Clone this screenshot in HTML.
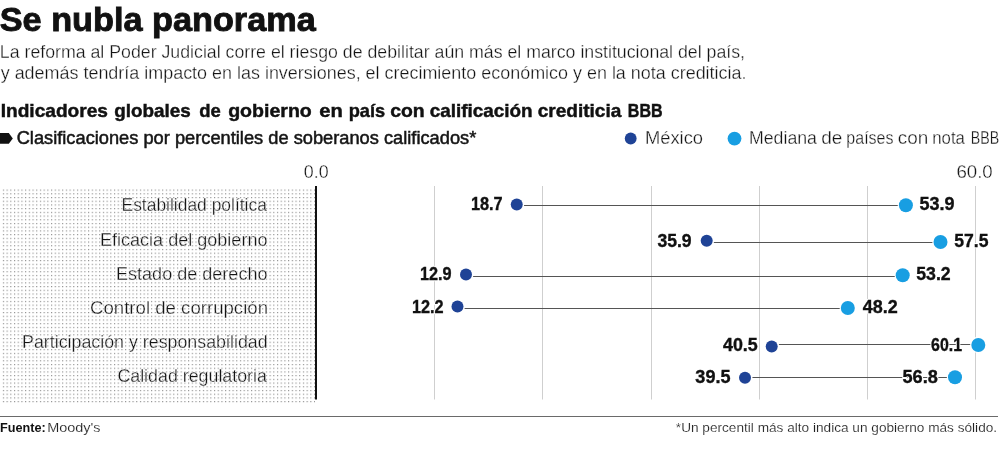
<!DOCTYPE html>
<html lang="es"><head><meta charset="utf-8"><title>Se nubla panorama</title>
<style>
html,body{margin:0;padding:0;background:#fff;}
body{width:1000px;height:450px;overflow:hidden;font-family:"Liberation Sans",sans-serif;}
svg{display:block;font-family:"Liberation Sans",sans-serif;opacity:.999;will-change:transform;}
.b{font-weight:bold;fill:#111;}
.l{fill:#141414;stroke:#fff;stroke-width:0.3px;}
.l2{fill:#222;stroke:#fff;stroke-width:0.15px;}
.m{fill:#151515;stroke:#151515;stroke-width:0.5px;}
.h{font-weight:bold;fill:#fff;stroke:#fff;stroke-width:2.6px;stroke-linejoin:round;}
.n{font-weight:bold;fill:#111;stroke:#111;stroke-width:0.35px;}
</style></head><body>
<svg width="1000" height="450" viewBox="0 0 1000 450">
<defs>
<pattern id="dots" x="2.85" y="189.55" width="3.704" height="3.711" patternUnits="userSpaceOnUse">
<rect x="0" y="0" width="1.15" height="1.15" fill="#8e8e8e"/>
</pattern>
</defs>
<rect x="0" y="0" width="1000" height="450" fill="#fff"/>
<!-- header -->
<rect x="2" y="189" width="313" height="214" fill="url(#dots)"/>
<text class="b" x="-0.30" y="31.2" font-size="34" stroke="#111" stroke-width="0.9" textLength="316.08" lengthAdjust="spacingAndGlyphs">Se nubla panorama</text>
<text class="l" x="-0.18" y="57.6" font-size="18"  textLength="745.19" lengthAdjust="spacingAndGlyphs">La reforma al Poder Judicial corre el riesgo de debilitar aún más el marco institucional del país,</text>
<text class="l" x="0.68" y="78.6" font-size="18"  textLength="745.82" lengthAdjust="spacingAndGlyphs">y además tendría impacto en las inversiones, el crecimiento económico y en la nota crediticia.</text>
<text class="b" x="0.66" y="116.7" font-size="18.5" stroke="#111" stroke-width="0.45" textLength="107.31" lengthAdjust="spacingAndGlyphs">Indicadores</text>
<text class="b" x="114.22" y="116.7" font-size="18.5" stroke="#111" stroke-width="0.45" textLength="76.54" lengthAdjust="spacingAndGlyphs">globales</text>
<text class="b" x="199.23" y="116.7" font-size="18.5" stroke="#111" stroke-width="0.45" textLength="21.52" lengthAdjust="spacingAndGlyphs">de</text>
<text class="b" x="228.19" y="116.7" font-size="18.5" stroke="#111" stroke-width="0.45" textLength="83.60" lengthAdjust="spacingAndGlyphs">gobierno</text>
<text class="b" x="319.19" y="116.7" font-size="18.5" stroke="#111" stroke-width="0.45" textLength="23.52" lengthAdjust="spacingAndGlyphs">en</text>
<text class="b" x="348.70" y="116.7" font-size="18.5" stroke="#111" stroke-width="0.45" textLength="36.50" lengthAdjust="spacingAndGlyphs">país</text>
<text class="b" x="390.22" y="116.7" font-size="18.5" stroke="#111" stroke-width="0.45" textLength="34.51" lengthAdjust="spacingAndGlyphs">con</text>
<text class="b" x="429.74" y="116.7" font-size="18.5" stroke="#111" stroke-width="0.45" textLength="102.83" lengthAdjust="spacingAndGlyphs">calificación</text>
<text class="b" x="537.73" y="116.7" font-size="18.5" stroke="#111" stroke-width="0.45" textLength="83.61" lengthAdjust="spacingAndGlyphs">crediticia</text>
<text class="b" x="627.87" y="116.7" font-size="18.5" stroke="#111" stroke-width="0.45" textLength="34.79" lengthAdjust="spacingAndGlyphs">BBB</text>
<text class="m" x="16.67" y="143.8" font-size="17.6"  textLength="459.64" lengthAdjust="spacingAndGlyphs">Clasificaciones por percentiles de soberanos calificados*</text>
<text class="l" x="644.96" y="144.4" font-size="17.6"  textLength="58.11" lengthAdjust="spacingAndGlyphs">México</text>
<text class="l" x="749.02" y="144.4" font-size="17.6"  textLength="67.95" lengthAdjust="spacingAndGlyphs">Mediana</text>
<text class="l" x="821.19" y="144.4" font-size="17.6"  textLength="21.17" lengthAdjust="spacingAndGlyphs">de</text>
<text class="l" x="846.37" y="144.4" font-size="17.6"  textLength="47.17" lengthAdjust="spacingAndGlyphs">países</text>
<text class="l" x="897.68" y="144.4" font-size="17.6"  textLength="30.51" lengthAdjust="spacingAndGlyphs">con</text>
<text class="l" x="932.27" y="144.4" font-size="17.6"  textLength="32.66" lengthAdjust="spacingAndGlyphs">nota</text>
<text class="l" x="970.81" y="144.4" font-size="17.6"  textLength="28.36" lengthAdjust="spacingAndGlyphs">BBB</text>
<text class="l" x="303.80" y="178" font-size="18.6"  textLength="24.79" lengthAdjust="spacingAndGlyphs">0.0</text>
<text class="l" x="956.38" y="178" font-size="18.6"  textLength="36.39" lengthAdjust="spacingAndGlyphs">60.0</text>
<text class="l" x="121.54" y="211" font-size="18"  textLength="145.36" lengthAdjust="spacingAndGlyphs">Estabilidad política</text>
<text class="l" x="99.99" y="245.5" font-size="18"  textLength="167.49" lengthAdjust="spacingAndGlyphs">Eficacia del gobierno</text>
<text class="l" x="115.99" y="279.5" font-size="18"  textLength="151.50" lengthAdjust="spacingAndGlyphs">Estado de derecho</text>
<text class="l" x="90.05" y="314" font-size="18"  textLength="177.94" lengthAdjust="spacingAndGlyphs">Control de corrupción</text>
<text class="l" x="22.01" y="348" font-size="18"  textLength="245.62" lengthAdjust="spacingAndGlyphs">Participación y responsabilidad</text>
<text class="l" x="117.40" y="382" font-size="18"  textLength="149.50" lengthAdjust="spacingAndGlyphs">Calidad regulatoria</text>
<path d="M0 133 H8.8 L12.8 138.4 L8.8 143.8 H0 Z" fill="#111"/>
<circle cx="630.7" cy="138.5" r="5.9" fill="#1f4396"/>
<circle cx="734.5" cy="138.6" r="6.9" fill="#189ee2"/>
<!-- chart -->
<line x1="434.5" y1="186" x2="434.5" y2="399.5" stroke="#cfcfcf" stroke-width="1"/>
<line x1="542.5" y1="186" x2="542.5" y2="399.5" stroke="#cfcfcf" stroke-width="1"/>
<line x1="651.5" y1="186" x2="651.5" y2="399.5" stroke="#cfcfcf" stroke-width="1"/>
<line x1="759.5" y1="186" x2="759.5" y2="399.5" stroke="#cfcfcf" stroke-width="1"/>
<line x1="867.5" y1="186" x2="867.5" y2="399.5" stroke="#cfcfcf" stroke-width="1"/>
<line x1="975.5" y1="186" x2="975.5" y2="399.5" stroke="#cfcfcf" stroke-width="1"/>
<line x1="316" y1="186" x2="316" y2="399.5" stroke="#111" stroke-width="2"/>
<line x1="516.75" y1="205.5" x2="905.9" y2="205.5" stroke="#555" stroke-width="1.1"/>
<circle cx="516.75" cy="204.5" r="6" fill="#1f4396" stroke="#fff" stroke-width="3" paint-order="stroke"/>
<circle cx="905.9" cy="205.2" r="7" fill="#189ee2" stroke="#fff" stroke-width="2.4" paint-order="stroke"/>
<text class="h" x="470.90" y="209.5" font-size="18"  textLength="31.75" lengthAdjust="spacingAndGlyphs">18.7</text>
<text class="n" x="470.90" y="209.5" font-size="18"  textLength="31.75" lengthAdjust="spacingAndGlyphs">18.7</text>
<text class="h" x="919.41" y="209.5" font-size="18"  textLength="35.01" lengthAdjust="spacingAndGlyphs">53.9</text>
<text class="n" x="919.41" y="209.5" font-size="18"  textLength="35.01" lengthAdjust="spacingAndGlyphs">53.9</text>
<line x1="706.7" y1="242.5" x2="940.5" y2="242.5" stroke="#555" stroke-width="1.1"/>
<circle cx="706.7" cy="240.8" r="6" fill="#1f4396" stroke="#fff" stroke-width="3" paint-order="stroke"/>
<circle cx="940.5" cy="242.0" r="7" fill="#189ee2" stroke="#fff" stroke-width="2.4" paint-order="stroke"/>
<text class="h" x="657.39" y="247" font-size="18"  textLength="34.22" lengthAdjust="spacingAndGlyphs">35.9</text>
<text class="n" x="657.39" y="247" font-size="18"  textLength="34.22" lengthAdjust="spacingAndGlyphs">35.9</text>
<text class="h" x="954.23" y="247" font-size="18"  textLength="34.23" lengthAdjust="spacingAndGlyphs">57.5</text>
<text class="n" x="954.23" y="247" font-size="18"  textLength="34.23" lengthAdjust="spacingAndGlyphs">57.5</text>
<line x1="466" y1="276.5" x2="902.7" y2="276.5" stroke="#555" stroke-width="1.1"/>
<circle cx="466" cy="274.5" r="6" fill="#1f4396" stroke="#fff" stroke-width="3" paint-order="stroke"/>
<circle cx="902.7" cy="275.2" r="7" fill="#189ee2" stroke="#fff" stroke-width="2.4" paint-order="stroke"/>
<text class="h" x="419.90" y="280" font-size="18"  textLength="31.67" lengthAdjust="spacingAndGlyphs">12.9</text>
<text class="n" x="419.90" y="280" font-size="18"  textLength="31.67" lengthAdjust="spacingAndGlyphs">12.9</text>
<text class="h" x="916.22" y="280" font-size="18"  textLength="34.42" lengthAdjust="spacingAndGlyphs">53.2</text>
<text class="n" x="916.22" y="280" font-size="18"  textLength="34.42" lengthAdjust="spacingAndGlyphs">53.2</text>
<line x1="457.5" y1="308.5" x2="847.8" y2="308.5" stroke="#555" stroke-width="1.1"/>
<circle cx="457.5" cy="306.6" r="6" fill="#1f4396" stroke="#fff" stroke-width="3" paint-order="stroke"/>
<circle cx="847.8" cy="308" r="7" fill="#189ee2" stroke="#fff" stroke-width="2.4" paint-order="stroke"/>
<text class="h" x="411.90" y="313" font-size="18"  textLength="31.70" lengthAdjust="spacingAndGlyphs">12.2</text>
<text class="n" x="411.90" y="313" font-size="18"  textLength="31.70" lengthAdjust="spacingAndGlyphs">12.2</text>
<text class="h" x="862.68" y="313" font-size="18"  textLength="34.98" lengthAdjust="spacingAndGlyphs">48.2</text>
<text class="n" x="862.68" y="313" font-size="18"  textLength="34.98" lengthAdjust="spacingAndGlyphs">48.2</text>
<line x1="771.7" y1="344.5" x2="978.3" y2="344.5" stroke="#555" stroke-width="1.1"/>
<circle cx="771.7" cy="346.5" r="6" fill="#1f4396" stroke="#fff" stroke-width="3" paint-order="stroke"/>
<circle cx="978.3" cy="345" r="7" fill="#189ee2" stroke="#fff" stroke-width="2.4" paint-order="stroke"/>
<text class="h" x="722.98" y="350.6" font-size="18"  textLength="34.79" lengthAdjust="spacingAndGlyphs">40.5</text>
<text class="n" x="722.98" y="350.6" font-size="18"  textLength="34.79" lengthAdjust="spacingAndGlyphs">40.5</text>
<text class="h" x="931.10" y="350.6" font-size="18"  textLength="30.99" lengthAdjust="spacingAndGlyphs">60.1</text>
<text class="n" x="931.10" y="350.6" font-size="18"  textLength="30.99" lengthAdjust="spacingAndGlyphs">60.1</text>
<line x1="745" y1="377.5" x2="955" y2="377.5" stroke="#555" stroke-width="1.1"/>
<circle cx="745" cy="377.7" r="6" fill="#1f4396" stroke="#fff" stroke-width="3" paint-order="stroke"/>
<circle cx="955" cy="377.3" r="7" fill="#189ee2" stroke="#fff" stroke-width="2.4" paint-order="stroke"/>
<text class="h" x="695.37" y="383" font-size="18"  textLength="35.10" lengthAdjust="spacingAndGlyphs">39.5</text>
<text class="n" x="695.37" y="383" font-size="18"  textLength="35.10" lengthAdjust="spacingAndGlyphs">39.5</text>
<text class="h" x="902.50" y="383" font-size="18"  textLength="35.35" lengthAdjust="spacingAndGlyphs">56.8</text>
<text class="n" x="902.50" y="383" font-size="18"  textLength="35.35" lengthAdjust="spacingAndGlyphs">56.8</text>
<!-- footer -->
<line x1="0" y1="416.5" x2="998" y2="416.5" stroke="#6a6a6a" stroke-width="1"/>
<text class="b" x="0.01" y="431.6" font-size="13.2"  textLength="45.62" lengthAdjust="spacingAndGlyphs">Fuente:</text>
<text class="l2" x="47.20" y="431.6" font-size="13.2"  textLength="53.34" lengthAdjust="spacingAndGlyphs">Moody's</text>
<text class="l2" x="675.84" y="431.7" font-size="13.2"  textLength="321.28" lengthAdjust="spacingAndGlyphs">*Un percentil más alto indica un gobierno más sólido.</text>
</svg></body></html>
